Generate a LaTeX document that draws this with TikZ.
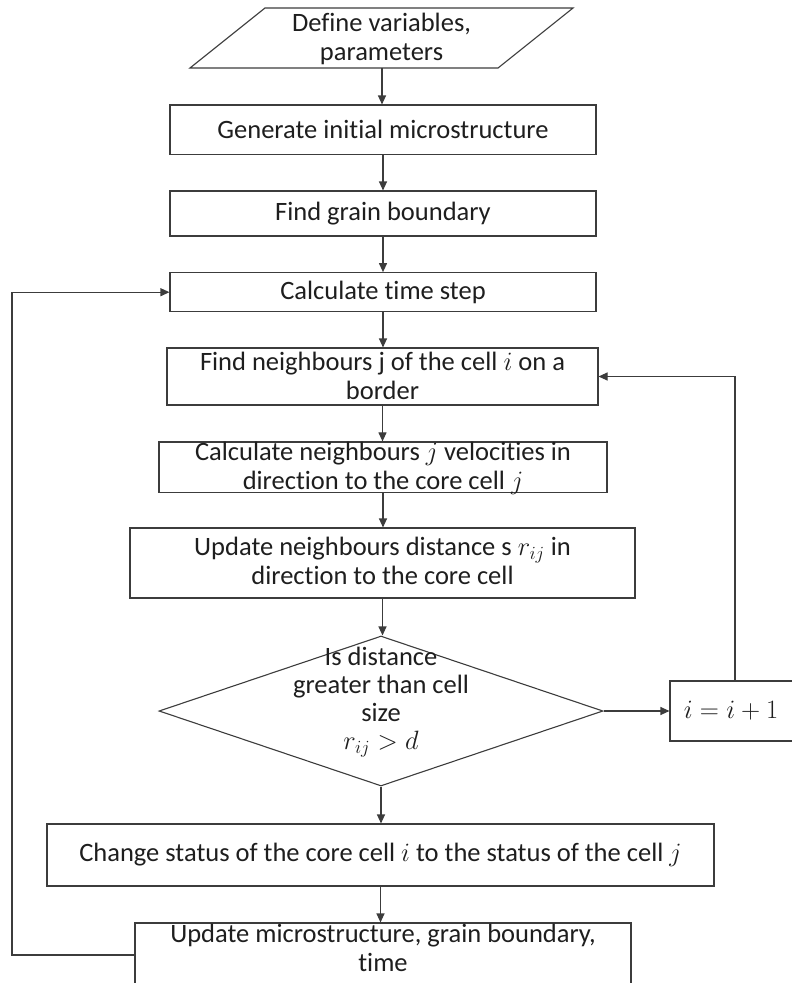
\RequirePackage{fix-cm}
\documentclass[tikz,border=0pt]{standalone}
\usepackage{fontspec}
\setmainfont{Carlito}[Ligatures={NoCommon}]
\usetikzlibrary{arrows.meta,shapes.geometric}
\definecolor{linec}{HTML}{3C3C3C}
\definecolor{textc}{HTML}{1E1E1E}
\tikzset{
  box/.style={draw=linec, line width=1.1pt, rectangle, inner sep=0pt,
    font=\fontsize{26.5}{29}\selectfont, text=textc},
  txt/.style={align=center, inner sep=0pt, text=textc,
    font=\fontsize{26.5}{29}\selectfont},
  shapeline/.style={draw=linec, line width=1.1pt, line join=miter},
  flow/.style={draw=linec, line width=1.1pt, -{Triangle[length=9pt,width=8pt]}},
}
\begin{document}
\begin{tikzpicture}[x=1pt,y=-1pt]
\useasboundingbox (0,0) rectangle (792,983);

% input parallelogram
\coordinate (pbl) at (190,68);
\coordinate (ptl) at (265,8);
\coordinate (ptr) at (573,8);
\coordinate (pbr) at (498,68);
\draw[shapeline] (pbl) -- (ptl) -- (ptr) -- (pbr) -- cycle;
\coordinate (par) at (382,68);
\node[txt] (t0) at (381.5,39) {Define variables,\\parameters};

\node[box, minimum width=426pt, minimum height=49.5pt] (b1) at (383,129.75) {Generate initial microstructure};
\node[box, minimum width=426pt, minimum height=45pt] (b2) at (383,213.5) {Find grain boundary};
\node[box, minimum width=426pt, minimum height=39pt] (b3) at (383,292.2) {Calculate time step};

\node[box, minimum width=431pt, minimum height=57pt] (b4) at (382.5,376.5) {};
\node[txt] (t4) at (382.5,376) {Find neighbours j of the cell $i$ on a\\border};

\node[box, minimum width=448pt, minimum height=50.5pt] (b5) at (383,467.2) {};
\node[txt] (t5) at (383,468) {Calculate neighbours $j$ velocities in\\direction to the core cell $j$};

\node[box, minimum width=505pt, minimum height=70pt] (b6) at (382.5,563) {};
\node[txt] (t6) at (382.5,561) {Update neighbours distance s $r_{ij}$ in\\direction to the core cell};

\node[diamond, draw=linec, line width=1.1pt, inner sep=0pt,
      minimum width=444pt, minimum height=150pt] (dia) at (381,711) {};
\node[txt, font=\fontsize{26.5}{28}\selectfont] (t8) at (381,702) {Is distance\\greater than cell\\size\\$r_{ij} > d$};

\node[box, minimum width=130pt, minimum height=60pt] (b9) at (735,711) {};
\node[txt] (t9) at (731,711) {$i = i + 1$};

\node[box, minimum width=667pt, minimum height=62pt] (b7) at (380.5,855) {Change status of the core cell $i$ to the status of the cell $j$};

\node[box, minimum width=496pt, minimum height=64pt] (b8) at (383,955) {};
\node[txt] (t10) at (383,948) {Update microstructure, grain boundary,\\time};

\coordinate (lft) at (12,0);

% main flow
\draw[flow] (par) -- (par |- b1.north);
\draw[flow] (b1.south) -- (b1.south |- b2.north);
\draw[flow] (b2.south) -- (b2.south |- b3.north);
\draw[flow] (b3.south) -- (b3.south |- b4.north);
\draw[flow] (b4.south) -- (b4.south |- b5.north);
\draw[flow] (b5.south) -- (b5.south |- b6.north);
\draw[flow] (b6.south) -- (b6.south |- dia.north);
\draw[flow] (dia.south) -- (dia.south |- b7.north);
\draw[flow] (b7.south) -- (b7.south |- b8.north);

% loops
\draw[flow] (dia.east) -- (b9.west);
\draw[flow] (b9.north) |- (b4.east);
\draw[flow] (b8.west) -- (b8.west -| lft) |- (b3.west);
\end{tikzpicture}
\end{document}
